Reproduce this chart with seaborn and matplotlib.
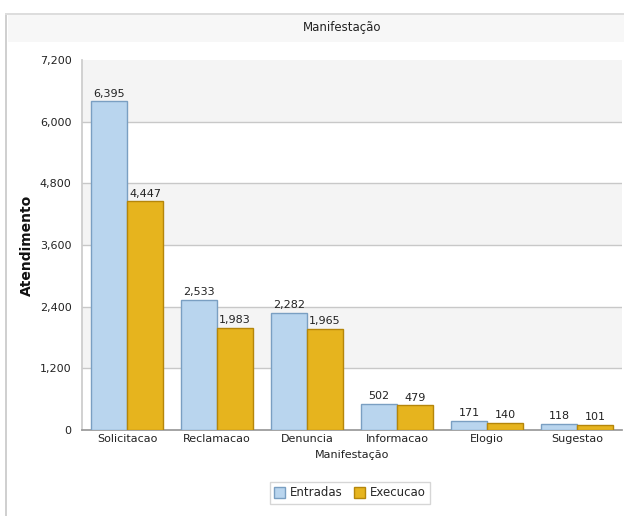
import matplotlib
matplotlib.use("Agg")
import matplotlib.pyplot as plt
import seaborn as sns
import pandas as pd
from matplotlib.patches import Rectangle
from matplotlib.ticker import FuncFormatter

categories = ["Solicitacao", "Reclamacao", "Denuncia", "Informacao", "Elogio", "Sugestao"]
entradas = [6395, 2533, 2282, 502, 171, 118]
execucao = [4447, 1983, 1965, 479, 140, 101]
series_names = ["Entradas", "Execucao"]
yticks = [0, 1200, 2400, 3600, 4800, 6000, 7200]

df = pd.DataFrame({
    "Manifestação": categories * 2,
    "Atendimento": entradas + execucao,
    "Serie": [series_names[0]] * len(categories) + [series_names[1]] * len(categories),
})

sns.set_theme(style="white")
plt.rcParams['font.family'] = ['DejaVu Sans']

fig = plt.figure(figsize=(6.24, 5.16), dpi=100)
W, H = 624, 516
ax = fig.add_axes([82 / W, 1 - 430 / H, 540 / W, 370 / H])

# header bar and frame line
fig.patches.append(Rectangle((8 / W, 1 - 42 / H), 616 / W, 28 / H, transform=fig.transFigure,
                             facecolor="#f7f7f7", edgecolor="none", zorder=0))
fig.patches.append(Rectangle((5 / W, 0), 2 / W, 1 - 14 / H, transform=fig.transFigure,
                             facecolor="#d0d0d0", edgecolor="none", zorder=0))
fig.patches.append(Rectangle((5 / W, 1 - 15 / H), 619 / W, 1.5 / H, transform=fig.transFigure,
                             facecolor="#dddddd", edgecolor="none", zorder=0))
fig.text(342 / W, 1 - 27 / H, "Manifestação", ha="center", va="center", fontsize=8.5, color="#222222")

colors = {"Entradas": "#b9d5ee", "Execucao": "#e6b41e"}
sns.barplot(data=df, x="Manifestação", y="Atendimento", hue="Serie", palette=colors,
            width=0.8, ax=ax, legend=False, saturation=1)

edge = {0: "#7a9fc2", 1: "#b5860a"}
for i, cont in enumerate(ax.containers):
    for p in cont:
        p.set_edgecolor(edge[i])
        p.set_linewidth(1.0)
        p.set_zorder(3)
    vals = entradas if i == 0 else execucao
    ax.bar_label(cont, labels=[f"{v:,}" for v in vals], padding=2, fontsize=8, color="#222222")

# alternating bands
for k in range(len(yticks) - 1):
    if k % 2 == 1:
        ax.axhspan(yticks[k], yticks[k + 1], facecolor="#f4f4f4", edgecolor="none", zorder=0)
for t in yticks[1:-1]:
    ax.axhline(t, color="#c8c8c8", lw=1, zorder=1)

ax.set_ylim(0, 7200)
ax.set_xlim(-0.5, len(categories) - 0.5)
ax.set_yticks(yticks)
ax.yaxis.set_major_formatter(FuncFormatter(lambda v, p: f"{int(v):,}"))
ax.tick_params(axis="y", labelsize=8, colors="#222222", length=4, color="#999999")
ax.tick_params(axis="x", labelsize=8, colors="#222222", length=0, pad=3)
for s in ["top", "right"]:
    ax.spines[s].set_visible(False)
ax.spines["left"].set_color("#cccccc")
ax.spines["bottom"].set_color("#999999")
ax.set_ylabel("Atendimento", fontsize=10, fontweight="bold", color="#111111", labelpad=4)
ax.set_xlabel("Manifestação", fontsize=8, color="#222222", labelpad=4)

handles = [Rectangle((0, 0), 1, 1, facecolor=colors[s], edgecolor=edge[i]) for i, s in enumerate(series_names)]
leg = fig.legend(handles, series_names, loc="center", bbox_to_anchor=(350 / W, 1 - 493 / H),
                 ncol=2, fontsize=8.5, frameon=True, handlelength=0.9, handleheight=1.1,
                 columnspacing=1.0, handletextpad=0.4, fancybox=False)
leg.get_frame().set_edgecolor("#cccccc")

fig.savefig("out.png", dpi=100)
